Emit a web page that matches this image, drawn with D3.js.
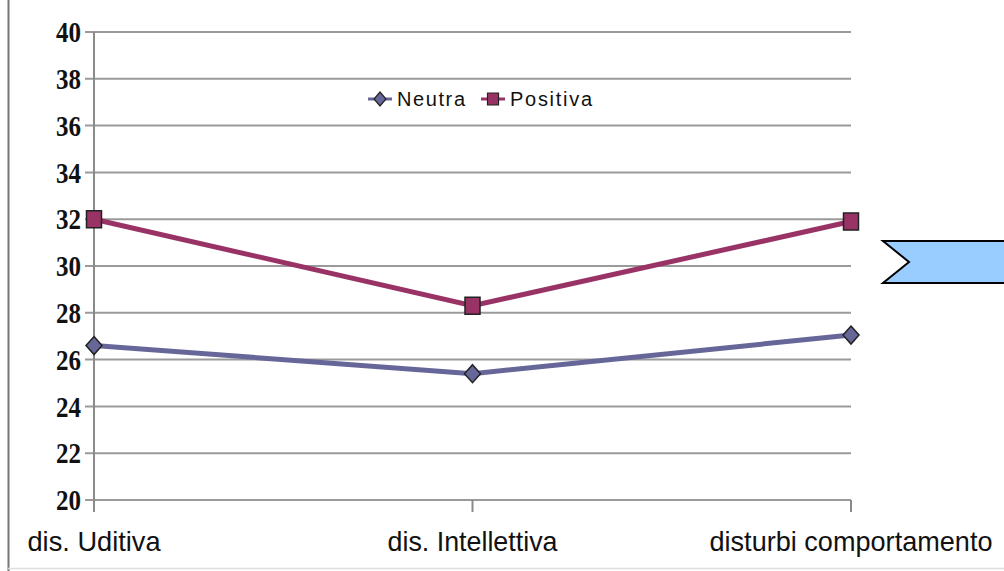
<!DOCTYPE html>
<html>
<head>
<meta charset="utf-8">
<script src="https://cdn.jsdelivr.net/npm/d3@7"></script>
<style>
  body { margin: 0; background: #fff; }
</style>
</head>
<body>
<div id="chart"></div>
<script>
const categories = ["dis. Uditiva", "dis. Intellettiva", "disturbi comportamento"]
const neutra = [26.6, 25.4, 27.05]
const positiva = [32.0, 28.3, 31.9]
const yTicks = [20, 22, 24, 26, 28, 30, 32, 34, 36, 38, 40]

const width = 1004
const height = 571
const margin = {top: 32, right: 153, bottom: 71, left: 94}

// custom marker shapes: slightly tall diamond and rectangle
function diamond(hw, hh) {
  return {draw: function(ctx) {
    ctx.moveTo(0, -hh); ctx.lineTo(hw, 0); ctx.lineTo(0, hh); ctx.lineTo(-hw, 0); ctx.closePath()
  }}
}
function box(hw, hh) {
  return {draw: function(ctx) {
    ctx.moveTo(-hw, -hh); ctx.lineTo(hw, -hh); ctx.lineTo(hw, hh); ctx.lineTo(-hw, hh); ctx.closePath()
  }}
}

const svg = d3.select('#chart')
  .append("svg")
  .attr("width", width)
  .attr("height", height)

// frame lines
svg.append("line").attr("x1", 8.5).attr("x2", 8.5).attr("y1", 0).attr("y2", height)
  .attr("stroke", "#777").attr("stroke-width", 2)
svg.append("line").attr("x1", 8).attr("x2", width).attr("y1", 568.5).attr("y2", 568.5)
  .attr("stroke", "#ddd").attr("stroke-width", 1.5)

const g = svg.append("g")
  .attr("transform", "translate(" + margin.left + "," + margin.top + ")")

const w = width - margin.left - margin.right
const h = height - margin.top - margin.bottom

const x = d3.scalePoint()
  .domain(categories)
  .range([0, w])

const y = d3.scaleLinear()
  .domain([20, 40])
  .range([h, 0])

// gridlines
g.selectAll(".grid")
  .data(yTicks)
  .enter()
  .append("line")
  .attr("x1", -9)
  .attr("x2", w)
  .attr("y1", function(d) { return y(d) })
  .attr("y2", function(d) { return y(d) })
  .attr("stroke", "#9a9a9a")
  .attr("stroke-width", 2)

// y axis line
g.append("line").attr("x1", 0).attr("x2", 0).attr("y1", 0).attr("y2", h + 12)
  .attr("stroke", "#8a8a8a").attr("stroke-width", 2)

// x ticks
g.selectAll(".xtick")
  .data(categories)
  .enter()
  .append("line")
  .attr("x1", function(d) { return x(d) })
  .attr("x2", function(d) { return x(d) })
  .attr("y1", h)
  .attr("y2", h + 12)
  .attr("stroke", "#8a8a8a")
  .attr("stroke-width", 2)

// y labels (tall, condensed bold serif)
g.selectAll(".ylab")
  .data(yTicks)
  .enter()
  .append("text")
  .attr("x", -13)
  .attr("y", function(d) { return y(d) })
  .attr("dy", "0.34em")
  .attr("text-anchor", "end")
  .attr("textLength", 25)
  .attr("lengthAdjust", "spacingAndGlyphs")
  .style("font-family", "'Liberation Serif', 'DejaVu Serif', serif")
  .style("font-weight", "bold")
  .style("font-size", "30px")
  .attr("fill", "#111")
  .text(function(d) { return d })

// x labels
const xLabelWidths = [133, 170, 283]
g.selectAll(".xlab")
  .data(categories)
  .enter()
  .append("text")
  .attr("x", function(d) { return x(d) })
  .attr("y", h + 51)
  .attr("text-anchor", "middle")
  .attr("textLength", function(d, i) { return xLabelWidths[i] })
  .attr("lengthAdjust", "spacingAndGlyphs")
  .style("font-family", "'Liberation Sans', Arial, sans-serif")
  .style("font-size", "28px")
  .attr("fill", "#111")
  .text(function(d) { return d })

const series = [
  {name: "Neutra", values: neutra, color: "#666699", shape: diamond(8, 9), legendShape: diamond(6, 7)},
  {name: "Positiva", values: positiva, color: "#993366", shape: box(7.5, 8.5), legendShape: box(5.5, 6)}
]

const line = d3.line()
  .x(function(d, i) { return x(categories[i]) })
  .y(function(d) { return y(d) })

series.forEach(function(s) {
  g.append("path")
    .datum(s.values)
    .attr("d", line)
    .attr("fill", "none")
    .attr("stroke", s.color)
    .attr("stroke-width", 5)

  g.selectAll(".m-" + s.name)
    .data(s.values)
    .enter()
    .append("path")
    .attr("transform", function(d, i) { return "translate(" + x(categories[i]) + "," + y(d) + ")" })
    .attr("d", d3.symbol().type(s.shape))
    .attr("fill", s.color)
    .attr("stroke", "#222")
    .attr("stroke-width", 1.5)
})

// legend
const legendWidths = [68, 82]
const legend = svg.append("g").attr("transform", "translate(368,99)")
series.forEach(function(s, i) {
  const lx = i === 0 ? 0 : 113
  legend.append("line").attr("x1", lx).attr("x2", lx + 24).attr("y1", 0).attr("y2", 0)
    .attr("stroke", s.color).attr("stroke-width", 3)
  legend.append("path")
    .attr("transform", "translate(" + (lx + 12) + ",0)")
    .attr("d", d3.symbol().type(s.legendShape))
    .attr("fill", s.color)
    .attr("stroke", "#222")
    .attr("stroke-width", 1.2)
  legend.append("text")
    .attr("x", lx + 29)
    .attr("y", 0)
    .attr("dy", "0.36em")
    .attr("textLength", legendWidths[i])
    .attr("lengthAdjust", "spacing")
    .style("font-family", "'Liberation Sans', Arial, sans-serif")
    .style("font-size", "20px")
    .attr("fill", "#111")
    .text(s.name)
})

// blue arrow banner
svg.append("path")
  .attr("d", "M883,241 L1006,241 L1006,283 L883,283 L909,262 Z")
  .attr("fill", "#99ccff")
  .attr("stroke", "#000")
  .attr("stroke-width", 2)
</script>
</body>
</html>
